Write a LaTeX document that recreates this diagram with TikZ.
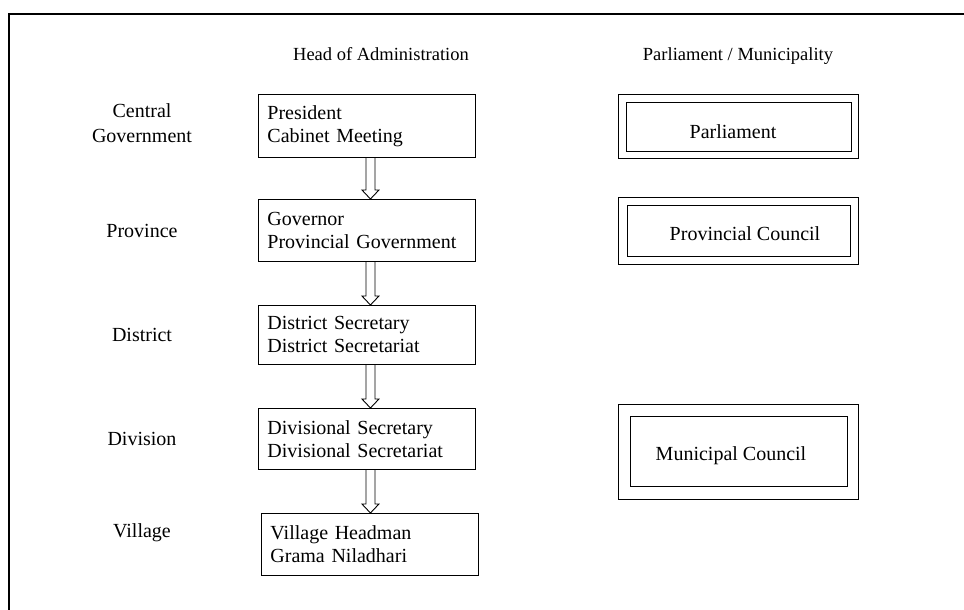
\documentclass[tikz,border=0pt]{standalone}
\usepackage{fontspec}
\setmainfont{Liberation Serif}
\usetikzlibrary{calc}
\tikzset{
  every node/.style={font=\fontsize{20}{25}\selectfont},
  adminbox/.style={draw, line width=0.9pt, anchor=north west, inner xsep=9pt, inner ysep=2pt,
    text width=199pt, minimum width=217pt, align=left, font=\fontsize{20}{23}\selectfont},
  outerbox/.style={draw, line width=1pt, anchor=north west, inner sep=0pt},
  innerbox/.style={draw, line width=0.9pt, anchor=north west, inner sep=0pt},
  lbl/.style={inner sep=0pt, anchor=base, align=center},
  headlbl/.style={lbl, font=\fontsize{18.5}{22}\selectfont},
  arrowline/.style={draw, line width=0.9pt, line join=miter},
  frameline/.style={line width=1.3pt},
}
\newcommand\blockarrowdown[2]{%
  \draw[arrowline] let \p1=([xshift=3.5pt]#1.south), \p2=(#2.north) in
    (\x1-4.5pt,\y1) -- (\x1-4.5pt,\y2+9pt) -- (\x1-8.5pt,\y2+9pt) -- (\x1,\y2)
    -- (\x1+8.5pt,\y2+9pt) -- (\x1+4.5pt,\y2+9pt) -- (\x1+4.5pt,\y1);}
\begin{document}
\begin{tikzpicture}[x=1pt,y=-1pt]
\useasboundingbox (0,0) rectangle (964,610);
\draw[frameline] (9,610) -- (9,14) -- (964,14);

% headers
\node[headlbl] (hhead) at (381,61) {Head of Administration};
\node[headlbl] (hparl) at (738,61) {Parliament / Municipality};

% level labels
\node[inner sep=0pt, anchor=north, align=center] (lcent) at (142,103) {Central\\Government};
\node[lbl] (lprov) at (142,237) {Province};
\node[lbl] (ldist) at (142,341) {District};
\node[lbl] (ldivi) at (142,445) {Division};
\node[lbl] (lvill) at (142,537) {Village};

% head of administration boxes
\node[adminbox, minimum height=63pt] (pres) at (258,94) {President\\Cabinet Meeting};
\node[adminbox, minimum height=62pt] (gov) at (258,199) {Governor\\Provincial Government};
\node[adminbox, minimum height=59pt] (dist) at (258,305) {District Secretary\\District Secretariat};
\node[adminbox, minimum height=61pt] (divi) at (258,408) {Divisional Secretary\\Divisional Secretariat};
\node[adminbox, minimum height=62pt] (vill) at (261,513) {Village Headman\\Grama Niladhari};

\blockarrowdown{pres}{gov}
\blockarrowdown{gov}{dist}
\blockarrowdown{dist}{divi}
\blockarrowdown{divi}{vill}

% parliament / municipality boxes
\node[outerbox, minimum width=240pt, minimum height=64pt] (parlo) at (618,94) {};
\node[innerbox, minimum width=225pt, minimum height=49pt] (parli) at (626,102) {};
\node[lbl] (parlt) at (733,138) {Parliament};

\node[outerbox, minimum width=240pt, minimum height=67pt] (provo) at (618,197) {};
\node[innerbox, minimum width=223pt, minimum height=51pt] (provi) at (627,205) {};
\node[lbl] (provt) at (745,240) {Provincial Council};

\node[outerbox, minimum width=240pt, minimum height=95pt] (munio) at (618,404) {};
\node[innerbox, minimum width=217pt, minimum height=70pt] (munii) at (630,416) {};
\node[lbl] (munit) at (731,460) {Municipal Council};
\end{tikzpicture}
\end{document}
